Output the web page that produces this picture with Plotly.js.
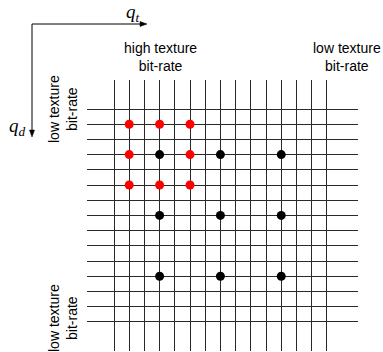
<!DOCTYPE html>
<html>
<head>
<meta charset="utf-8">
<script src="https://cdn.plot.ly/plotly-3.0.1.min.js"></script>
<style>html,body{margin:0;padding:0;background:#fff;}#chart{width:383px;height:352px;}</style>
</head>
<body>
<div id="chart"></div>
<script>
// Grid indices (columns = texture quantisation, rows = depth quantisation)
var gridCols = [0,1,2,3,4,5,6,7,8,9,10,11,12,13,14];
var gridRows = [0,1,2,3,4,5,6,7,8,9,10,11,12,13,14];

// Red points (fine search neighbourhood)
var redCol = [1,3,5,1,5,1,3,5];
var redRow = [1,1,1,3,3,5,5,5];

// Black points (coarse search grid)
var blackCol = [3,7,11,3,7,11,3,7,11];
var blackRow = [3,3,3,7,7,7,11,11,11];

var labelHighTex = 'high texture<br>bit-rate';
var labelLowTex = 'low texture<br>bit-rate';
var labelQt = '<i>q</i><sub><i>t</i></sub>';
var labelQd = '<i>q</i><sub><i>d</i></sub>';

// layout helpers (pixel -> paper)
var W = 383, H = 352;
var mL = 87, mR = 25, mT = 80, mB = 1;
var pw = W - mL - mR, ph = H - mT - mB;
function px(x){ return (x - mL) / pw; }
function py(y){ return (H - mB - y) / ph; }

var sansFont = {family: 'Liberation Sans, Arial, sans-serif', size: 14, color: '#000'};
var serifFont = {family: 'Liberation Serif, Times New Roman, serif', size: 19, color: '#000'};

var traces = [
  {x: redCol, y: redRow, mode: 'markers', type: 'scatter',
   marker: {color: '#ff0000', size: 9}, cliponaxis: false, hoverinfo: 'none'},
  {x: blackCol, y: blackRow, mode: 'markers', type: 'scatter',
   marker: {color: '#000000', size: 9}, cliponaxis: false, hoverinfo: 'none'}
];

function P(x, y){ return px(x) + ',' + py(y); }

var layout = {
  width: W, height: H,
  margin: {l: mL, r: mR, t: mT, b: mB, pad: 0},
  paper_bgcolor: '#fff', plot_bgcolor: '#fff',
  showlegend: false,
  xaxis: {range: [-1.776, 16.05], tickmode: 'array', tickvals: gridCols,
          showticklabels: false, ticks: '', showgrid: true, gridcolor: '#2a2a2a', gridwidth: 1,
          zeroline: false, showline: false, fixedrange: true},
  yaxis: {range: [15.92, -1.908], tickmode: 'array', tickvals: gridRows,
          showticklabels: false, ticks: '', showgrid: true, gridcolor: '#2a2a2a', gridwidth: 1,
          zeroline: false, showline: false, fixedrange: true},
  shapes: [
    {type: 'line', xref: 'paper', yref: 'paper', x0: px(32), y0: py(24), x1: px(142), y1: py(24),
     line: {color: '#000', width: 1}},
    {type: 'line', xref: 'paper', yref: 'paper', x0: px(32), y0: py(24), x1: px(32), y1: py(132),
     line: {color: '#000', width: 1}},
    {type: 'path', xref: 'paper', yref: 'paper',
     path: 'M' + P(147, 24) + ' L' + P(140, 21.5) + ' L' + P(140, 26.5) + ' Z',
     fillcolor: '#000', line: {color: '#000', width: 0.5}},
    {type: 'path', xref: 'paper', yref: 'paper',
     path: 'M' + P(32, 137) + ' L' + P(29.5, 130) + ' L' + P(34.5, 130) + ' Z',
     fillcolor: '#000', line: {color: '#000', width: 0.5}}
  ],
  annotations: [
    {xref: 'paper', yref: 'paper', x: px(160), y: py(57), text: labelHighTex,
     showarrow: false, font: sansFont, xanchor: 'center', yanchor: 'middle'},
    {xref: 'paper', yref: 'paper', x: px(347), y: py(57), text: labelLowTex,
     showarrow: false, font: sansFont, xanchor: 'center', yanchor: 'middle'},
    {xref: 'paper', yref: 'paper', x: px(63), y: py(109), text: labelLowTex,
     showarrow: false, font: sansFont, textangle: -90, xanchor: 'center', yanchor: 'middle'},
    {xref: 'paper', yref: 'paper', x: px(63), y: py(318), text: labelLowTex,
     showarrow: false, font: sansFont, textangle: -90, xanchor: 'center', yanchor: 'middle'},
    {xref: 'paper', yref: 'paper', x: px(133), y: py(13), text: labelQt,
     showarrow: false, font: serifFont, xanchor: 'center', yanchor: 'middle'},
    {xref: 'paper', yref: 'paper', x: px(17), y: py(127), text: labelQd,
     showarrow: false, font: serifFont, xanchor: 'center', yanchor: 'middle'}
  ]
};

Plotly.newPlot('chart', traces, layout, {displayModeBar: false, staticPlot: true});
</script>
</body>
</html>
